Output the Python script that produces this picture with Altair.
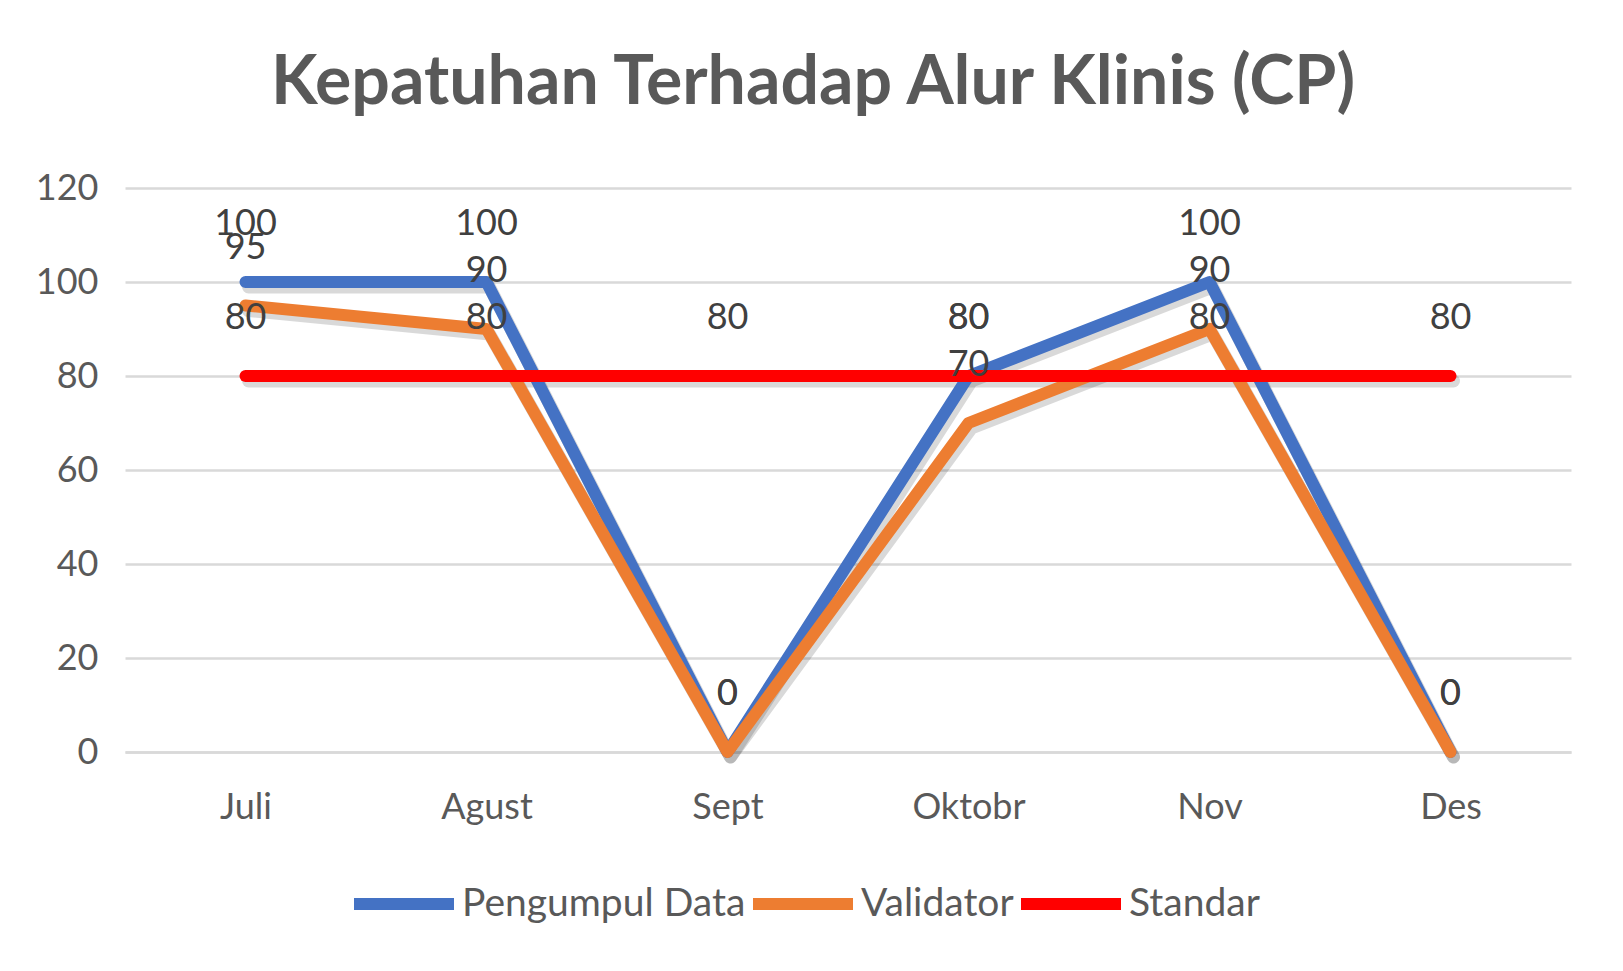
import altair as alt
import pandas as pd

categories = ["Juli", "Agust", "Sept", "Oktobr", "Nov", "Des"]
pengumpul_data = [100, 100, 0, 80, 100, 0]
validator = [95, 90, 0, 70, 90, 0]
standar = [80, 80, 80, 80, 80, 80]
series_names = ["Pengumpul Data", "Validator", "Standar"]
series_colors = ["#4472C4", "#ED7D31", "#FF0000"]
y_ticks = [0, 20, 40, 60, 80, 100, 120]

rows = []
for name, vals in zip(series_names, [pengumpul_data, validator, standar]):
    for c, v in zip(categories, vals):
        rows.append({"month": c, "value": v, "series": name})
df = pd.DataFrame(rows)

FONT = "Lato"
GRAY = "#595959"

x = alt.X("month:N", sort=categories, scale=alt.Scale(type="point", padding=0.5),
          axis=alt.Axis(title=None, labelFontSize=36, labelFont=FONT, labelColor=GRAY,
                        labelPadding=38, ticks=False, domain=True, domainColor="#d9d9d9",
                        domainWidth=2.5, grid=False, labelAngle=0))
y = alt.Y("value:Q", scale=alt.Scale(domain=[0, 120], nice=False, zero=True),
          axis=alt.Axis(title=None, values=y_ticks, labelFontSize=36, labelFont=FONT,
                        labelColor=GRAY, labelPadding=27, ticks=False, domain=False,
                        grid=True, gridColor="#d9d9d9", gridWidth=2.5))

color = alt.Color("series:N", sort=series_names,
                  scale=alt.Scale(domain=series_names, range=series_colors),
                  legend=alt.Legend(title=None, orient="none", legendX=223, legendY=660,
                                    direction="horizontal", symbolType="stroke",
                                    symbolSize=10000, symbolStrokeWidth=12,
                                    labelFontSize=39, labelFont=FONT, labelColor=GRAY,
                                    columnPadding=-17, labelOffset=2, labelLimit=0))

base = alt.Chart(df)

shadow = base.mark_line(strokeWidth=13, strokeCap="round", strokeJoin="round",
                        xOffset=3, yOffset=5, opacity=0.15, color="#000000").encode(
    x=x, y=y, detail="series:N")

layers = [shadow]
for name in series_names:
    layers.append(
        base.transform_filter(alt.datum.series == name)
        .mark_line(strokeWidth=12, strokeCap="round", strokeJoin="round")
        .encode(x=x, y=y, color=color)
    )

labels = base.mark_text(dy=-58, fontSize=36, font=FONT, color="#404040").encode(
    x=x, y=y, text="value:Q")
layers.append(labels)

chart = alt.layer(*layers).properties(
    width=1446, height=564,
    padding={"left": 117, "top": 180, "right": 40, "bottom": 200},
    autosize=alt.AutoSizeParams(type="none"),
    title=alt.TitleParams("Kepatuhan Terhadap Alur Klinis (CP)", fontSize=68, font=FONT,
                          fontWeight="bold", color=GRAY, anchor="middle", dx=-35, offset=52),
).configure_view(stroke=None)

chart.save("out.html", embed_options={"renderer": "svg", "actions": False})
